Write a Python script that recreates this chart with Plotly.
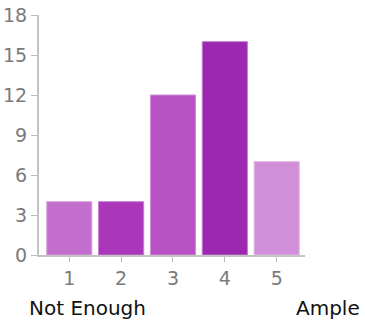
import plotly.graph_objects as go

# rating scale and response counts
ratings = [1, 2, 3, 4, 5]
counts = [4, 4, 12, 16, 7]
bar_colors = ['#c36dcc', '#aa36b9', '#b952c4', '#9c27b0', '#d08fd8']
edge_colors = ['#d9a3de', '#c77ad2', '#d08cd8', '#c27ad0', '#e2b8e7']
y_ticks = [0, 3, 6, 9, 12, 15, 18]

fig = go.Figure(go.Bar(
    x=ratings,
    y=counts,
    width=0.87,
    marker=dict(color=bar_colors, line=dict(color=edge_colors, width=1)),
    hoverinfo='x+y'
))

axis_font = dict(family='DejaVu Sans', size=19, color='#7a7a7a')
label_font = dict(family='DejaVu Sans', size=20, color='#111111')

fig.update_layout(
    width=365, height=324,
    margin=dict(l=39, r=60, t=15, b=69),
    paper_bgcolor='white', plot_bgcolor='white',
    showlegend=False,
    xaxis=dict(
        range=[0.416, 5.546],
        tickvals=ratings,
        ticks='outside', ticklen=5, tickcolor='#bbbbbb', tickwidth=1,
        showline=True, linecolor='#c4c4c4', linewidth=2,
        showgrid=False, zeroline=False, automargin=False,
        tickfont=axis_font,
    ),
    yaxis=dict(
        range=[0, 18],
        tickvals=y_ticks,
        ticks='outside', ticklen=6, tickcolor='#bbbbbb', tickwidth=1,
        showline=True, linecolor='#c4c4c4', linewidth=2,
        showgrid=False, zeroline=False, automargin=False,
        ticklabeloverflow='allow',
        tickfont=axis_font,
    ),
    annotations=[
        dict(text='Not Enough', xref='paper', yref='paper', x=-0.045, y=-0.22,
             xanchor='left', yanchor='middle', showarrow=False, font=label_font),
        dict(text='Ample', xref='paper', yref='paper', x=1.214, y=-0.22,
             xanchor='right', yanchor='middle', showarrow=False, font=label_font),
    ]
)

# drop the default page margin so the figure sits at the window corner
fig.write_html('out.html', config={'displayModeBar': False},
               post_script="document.body.style.margin='0';")
